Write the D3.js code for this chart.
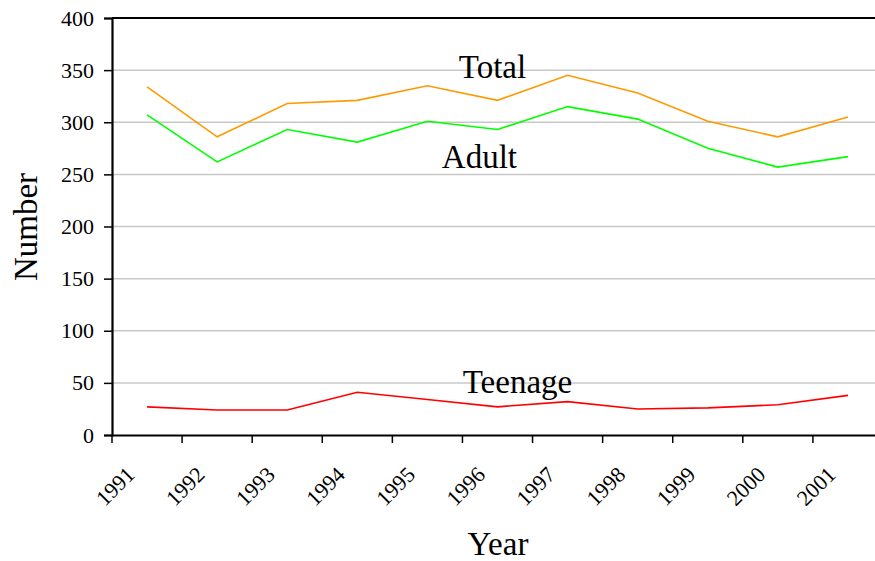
<!DOCTYPE html>
<html>
<head>
<meta charset="utf-8">
<script src="https://cdn.jsdelivr.net/npm/d3@7"></script>
<style>
  html, body { margin: 0; padding: 0; background: #fff; overflow: hidden; }
  svg { display: block; }
  svg text { font-family: "Liberation Serif", "Times New Roman", serif !important; fill: #000; }
</style>
</head>
<body>
<svg id="chart" width="875" height="561"></svg>
<script>
const years = ["1991","1992","1993","1994","1995","1996","1997","1998","1999","2000","2001"];
const total = [334, 286, 318, 321, 335, 321, 345, 328, 301, 286, 305];
const adult = [307, 262, 293, 281, 301, 293, 315, 303, 275, 257, 267];
const teenage = [27, 24, 24, 41, 34, 27, 32, 25, 26, 29, 38];
const yTicks = [0, 50, 100, 150, 200, 250, 300, 350, 400];

const series = [
  { name: "Total", values: total, color: "#FF9900", label: { year: "1996", value: 342, dx: -5 } },
  { name: "Adult", values: adult, color: "#00FF00", label: { year: "1995", value: 256, dx: 52 } },
  { name: "Teenage", values: teenage, color: "#FF0000", label: { year: "1996", value: 40, dx: 20 } }
];

const FONT = "'Liberation Serif', 'Times New Roman', serif";
const svg = d3.select("#chart");
const mLeft = 112, mRight = 883, mTop = 18, mBottom = 435;

const x = d3.scaleBand().domain(years).range([mLeft, mRight]).paddingInner(0).paddingOuter(0);
const y = d3.scaleLinear().domain([0, 400]).range([mBottom, mTop]);
const cx = d => x(d) + x.bandwidth() / 2;

// gridlines
svg.append("g").selectAll("line").data(yTicks.filter(d => d > 0 && d < 400)).join("line")
  .attr("x1", mLeft).attr("x2", 875)
  .attr("y1", d => y(d)).attr("y2", d => y(d))
  .attr("stroke", "#C8C8C8").attr("stroke-width", 1.5);

// top border
svg.append("line").attr("x1", mLeft).attr("x2", 875).attr("y1", y(400)).attr("y2", y(400))
  .attr("stroke", "#000").attr("stroke-width", 2);

// y axis
const yAxis = svg.append("g").attr("transform", `translate(${mLeft},0)`)
  .call(d3.axisLeft(y).tickValues(yTicks).tickSize(8).tickPadding(10));
yAxis.attr("font-family", FONT).attr("font-size", 22);
yAxis.select(".domain").attr("stroke", "#000").attr("stroke-width", 2.2);
yAxis.selectAll(".tick line").attr("stroke", "#000").attr("stroke-width", 1.5);
yAxis.selectAll(".tick text").style("font-size", "22px").style("font-family", FONT).attr("fill", "#000");

// x axis
const xAxis = svg.append("g").attr("transform", `translate(0,${mBottom})`)
  .call(d3.axisBottom(x).tickSize(0).tickFormat(""));
xAxis.select(".domain").attr("stroke", "#000").attr("stroke-width", 2.2);
xAxis.selectAll(".tick").remove();
const bounds = years.map(d => x(d));
xAxis.append("g").selectAll("line").data(bounds).join("line")
  .attr("x1", d => d).attr("x2", d => d).attr("y1", 0).attr("y2", 8)
  .attr("stroke", "#000").attr("stroke-width", 1.5);

// x tick labels
svg.append("g").attr("font-family", FONT).selectAll("text").data(years).join("text")
  .attr("transform", d => `translate(${cx(d) - 11},${mBottom + 41}) rotate(-45)`)
  .attr("text-anchor", "end")
  .style("font-size", "22px")
  .style("font-family", FONT)
  .text(d => d);

// lines
const line = d3.line().x((d, i) => cx(years[i])).y(d => y(d));
svg.append("g").selectAll("path").data(series).join("path")
  .attr("d", s => line(s.values))
  .attr("fill", "none")
  .attr("stroke", s => s.color)
  .attr("stroke-width", 1.6);

// series labels
svg.append("g").selectAll("text").data(series).join("text")
  .attr("x", s => cx(s.label.year) + s.label.dx)
  .attr("y", s => y(s.label.value))
  .attr("text-anchor", "middle")
  .style("font-size", "33px")
  .style("font-family", FONT)
  .text(s => s.name);

// axis titles
svg.append("text")
  .attr("transform", `translate(37,227) rotate(-90)`)
  .attr("text-anchor", "middle")
  .style("font-size", "33px")
  .style("font-family", FONT)
  .text("Number");

svg.append("text")
  .attr("x", 498).attr("y", 555)
  .attr("text-anchor", "middle")
  .style("font-size", "33px")
  .style("font-family", FONT)
  .text("Year");
</script>
</body>
</html>
